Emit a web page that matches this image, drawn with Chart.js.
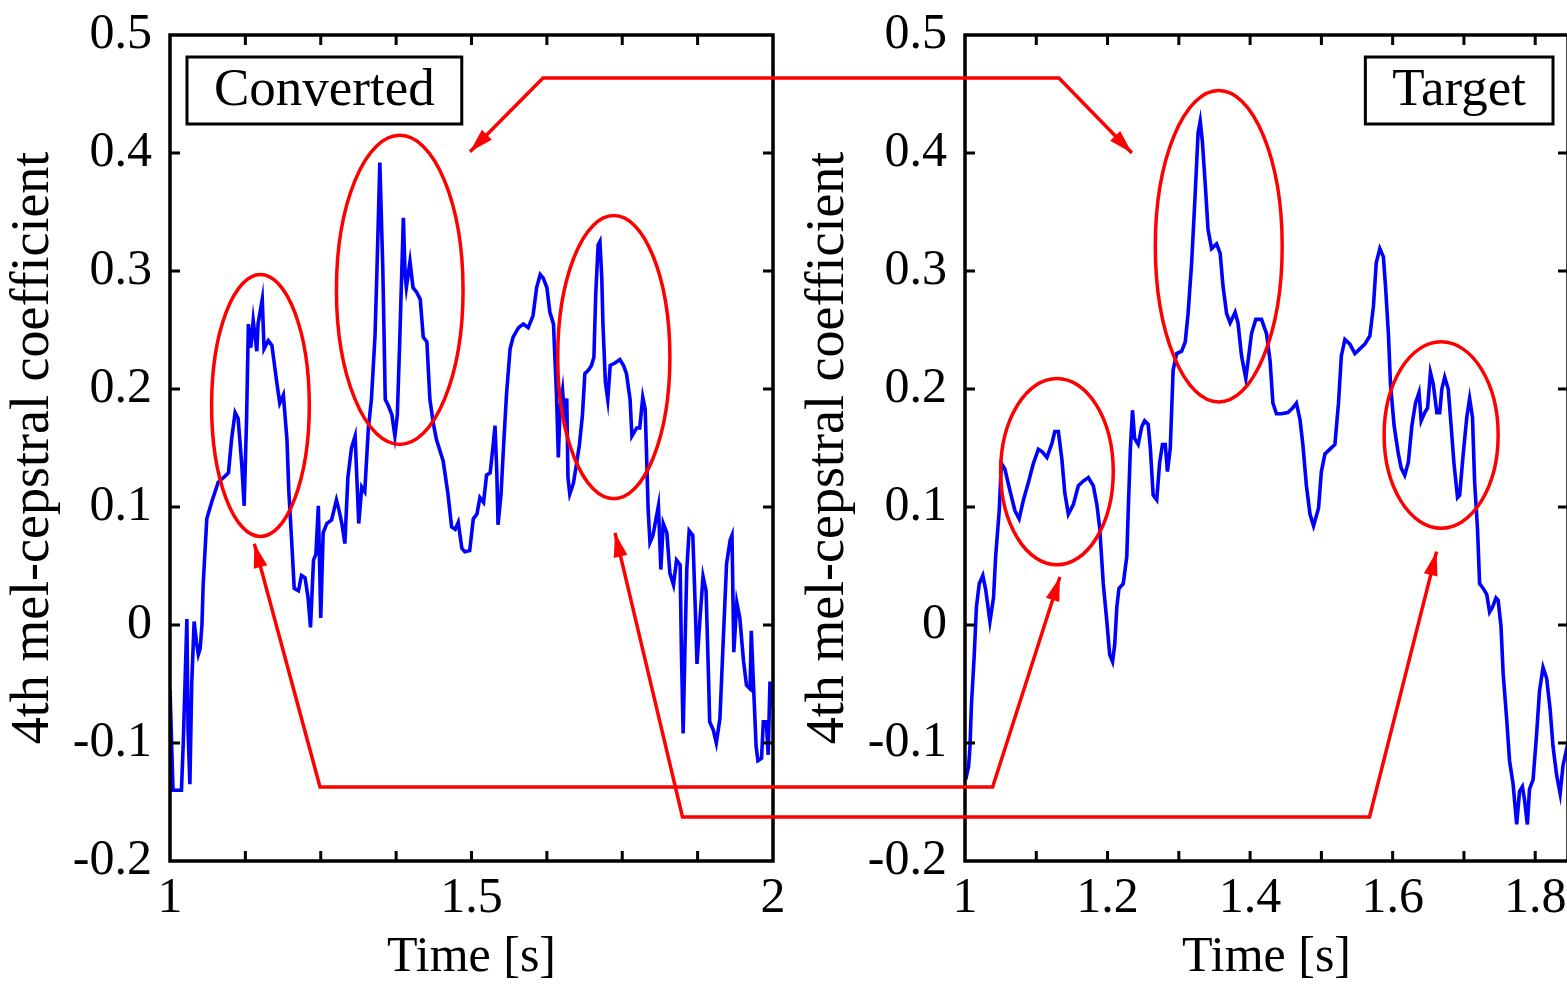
<!DOCTYPE html>
<html>
<head>
<meta charset="utf-8">
<title>4th mel-cepstral coefficient: Converted vs Target</title>
<script src="https://cdn.jsdelivr.net/npm/chart.js@4.4.1/dist/chart.umd.min.js"></script>
<style>
  html, body { margin: 0; padding: 0; background: #fff; overflow: hidden; }
  #page { position: relative; width: 1567px; height: 984px; overflow: hidden; }
  canvas { position: absolute; top: 0; }
  #leftChart { left: 0; }
  #rightChart { left: 795px; }
  #overlay { left: 0; pointer-events: none; }
</style>
</head>
<body>
<div id="page">
  <canvas id="leftChart" width="790" height="984"></canvas>
  <canvas id="rightChart" width="790" height="984"></canvas>
  <canvas id="overlay" width="1567" height="984"></canvas>
</div>
<script>
// =======================
// DATA
// =======================

// Converted (left panel), time [s]
const leftTime = [
  1.000, 1.005, 1.019, 1.022, 1.028, 1.030, 1.033, 1.036, 1.040, 1.044, 1.047, 1.050, 1.053, 1.055, 1.061, 1.069,
  1.080, 1.091, 1.097, 1.102, 1.108, 1.113, 1.119, 1.123, 1.127, 1.130, 1.134, 1.138, 1.144, 1.146, 1.153, 1.156,
  1.163, 1.169, 1.177, 1.182, 1.188, 1.194, 1.197, 1.202, 1.206, 1.213, 1.218, 1.224, 1.229, 1.233, 1.238, 1.242,
  1.246, 1.250, 1.254, 1.260, 1.268, 1.276, 1.280, 1.285, 1.290, 1.295, 1.301, 1.307, 1.313, 1.318, 1.323, 1.329,
  1.334, 1.340, 1.343, 1.348, 1.353, 1.357, 1.362, 1.368, 1.373, 1.377, 1.381, 1.387, 1.390, 1.392, 1.398, 1.403,
  1.409, 1.415, 1.420, 1.426, 1.431, 1.437, 1.442, 1.453, 1.461, 1.467, 1.473, 1.478, 1.484, 1.489, 1.497, 1.503,
  1.509, 1.514, 1.520, 1.525, 1.531, 1.536, 1.539, 1.542, 1.544, 1.549, 1.553, 1.558, 1.564, 1.569, 1.578, 1.586,
  1.594, 1.602, 1.608, 1.614, 1.619, 1.625, 1.630, 1.636, 1.638, 1.641, 1.644, 1.647, 1.651, 1.655, 1.658, 1.660,
  1.663, 1.669, 1.674, 1.679, 1.684, 1.688, 1.694, 1.699, 1.703, 1.706, 1.710, 1.713, 1.716, 1.718, 1.722, 1.726,
  1.730, 1.738, 1.746, 1.752, 1.757, 1.763, 1.766, 1.774, 1.779, 1.784, 1.788, 1.790, 1.793, 1.796, 1.801, 1.806,
  1.810, 1.814, 1.818, 1.824, 1.829, 1.835, 1.840, 1.846, 1.848, 1.851, 1.854, 1.857, 1.861, 1.867, 1.871, 1.874,
  1.879, 1.884, 1.889, 1.893, 1.895, 1.901, 1.906, 1.912, 1.917, 1.923, 1.929, 1.932, 1.935, 1.940, 1.945, 1.951,
  1.956, 1.962, 1.964, 1.967, 1.972, 1.975, 1.981, 1.984, 1.989, 1.992, 1.995, 1.997, 2.000
];
const leftValue = [
  -0.055, -0.140, -0.140, -0.100, 0.005, -0.090, -0.135, -0.050, 0.003, -0.015, -0.025, -0.020, 0.000, 0.034, 0.090, 0.104,
  0.121, 0.126, 0.129, 0.157, 0.180, 0.175, 0.136, 0.101, 0.175, 0.255, 0.235, 0.258, 0.232, 0.255, 0.276, 0.234,
  0.241, 0.237, 0.206, 0.188, 0.195, 0.157, 0.114, 0.069, 0.031, 0.029, 0.042, 0.040, 0.023, -0.002, 0.055, 0.060,
  0.101, 0.006, 0.078, 0.086, 0.089, 0.106, 0.098, 0.086, 0.069, 0.125, 0.150, 0.160, 0.086, 0.117, 0.113, 0.167,
  0.191, 0.245, 0.297, 0.392, 0.300, 0.191, 0.186, 0.178, 0.160, 0.178, 0.241, 0.345, 0.296, 0.286, 0.308, 0.286,
  0.282, 0.276, 0.244, 0.240, 0.191, 0.170, 0.157, 0.139, 0.111, 0.083, 0.081, 0.087, 0.065, 0.062, 0.063, 0.090,
  0.094, 0.108, 0.104, 0.127, 0.129, 0.153, 0.169, 0.129, 0.085, 0.111, 0.150, 0.195, 0.234, 0.244, 0.252, 0.255,
  0.252, 0.262, 0.286, 0.297, 0.294, 0.286, 0.265, 0.255, 0.230, 0.195, 0.142, 0.185, 0.199, 0.171, 0.192, 0.125,
  0.111, 0.120, 0.136, 0.153, 0.178, 0.213, 0.216, 0.220, 0.227, 0.280, 0.322, 0.325, 0.295, 0.255, 0.206, 0.191,
  0.220, 0.222, 0.225, 0.220, 0.213, 0.191, 0.160, 0.167, 0.167, 0.193, 0.183, 0.150, 0.097, 0.070, 0.076, 0.090,
  0.101, 0.047, 0.086, 0.078, 0.044, 0.034, 0.055, 0.051, -0.019, -0.092, -0.019, 0.047, 0.080, 0.076, 0.016, -0.033,
  0.006, 0.041, 0.029, -0.043, -0.082, -0.089, -0.100, -0.079, -0.019, 0.052, 0.072, 0.076, -0.023, 0.019, 0.006, -0.030,
  -0.051, -0.054, -0.005, -0.043, -0.103, -0.115, -0.113, -0.082, -0.082, -0.110, -0.048, -0.070, -0.050
];

// Target (right panel), time [s]
const rightTime = [
  1.001, 1.005, 1.007, 1.009, 1.013, 1.016, 1.020, 1.025, 1.029, 1.035, 1.040, 1.043, 1.048, 1.051, 1.056, 1.063,
  1.070, 1.076, 1.082, 1.089, 1.096, 1.103, 1.108, 1.115, 1.122, 1.126, 1.131, 1.136, 1.140, 1.145, 1.152, 1.159,
  1.166, 1.173, 1.180, 1.185, 1.189, 1.194, 1.199, 1.203, 1.207, 1.210, 1.213, 1.216, 1.222, 1.227, 1.229, 1.232,
  1.235, 1.238, 1.243, 1.248, 1.252, 1.257, 1.260, 1.264, 1.269, 1.273, 1.277, 1.281, 1.284, 1.288, 1.292, 1.297,
  1.304, 1.309, 1.313, 1.318, 1.323, 1.327, 1.330, 1.333, 1.337, 1.341, 1.346, 1.353, 1.358, 1.362, 1.367, 1.372,
  1.379, 1.383, 1.388, 1.394, 1.397, 1.402, 1.408, 1.416, 1.423, 1.428, 1.432, 1.437, 1.444, 1.453, 1.460, 1.465,
  1.470, 1.474, 1.479, 1.484, 1.489, 1.496, 1.500, 1.505, 1.512, 1.519, 1.524, 1.528, 1.533, 1.540, 1.547, 1.554,
  1.561, 1.568, 1.573, 1.577, 1.582, 1.587, 1.590, 1.594, 1.597, 1.602, 1.608, 1.612, 1.617, 1.622, 1.627, 1.632,
  1.637, 1.640, 1.645, 1.649, 1.653, 1.657, 1.662, 1.666, 1.669, 1.673, 1.678, 1.682, 1.686, 1.691, 1.694, 1.699,
  1.704, 1.708, 1.712, 1.715, 1.719, 1.722, 1.727, 1.732, 1.736, 1.740, 1.745, 1.748, 1.752, 1.755, 1.760, 1.764,
  1.769, 1.774, 1.778, 1.782, 1.785, 1.789, 1.792, 1.797, 1.802, 1.806, 1.811, 1.816, 1.821, 1.825, 1.830, 1.835,
  1.839, 1.843, 1.846
];
const rightValue = [
  -0.131, -0.120, -0.103, -0.068, -0.025, 0.015, 0.035, 0.042, 0.030, 0.003, 0.023, 0.058, 0.097, 0.137, 0.132, 0.114,
  0.097, 0.090, 0.106, 0.121, 0.137, 0.149, 0.147, 0.142, 0.154, 0.164, 0.164, 0.140, 0.112, 0.094, 0.102, 0.118,
  0.122, 0.125, 0.118, 0.102, 0.082, 0.035, 0.003, -0.025, -0.031, -0.017, 0.015, 0.031, 0.035, 0.058, 0.097, 0.149,
  0.182, 0.158, 0.153, 0.168, 0.173, 0.170, 0.150, 0.110, 0.106, 0.137, 0.153, 0.153, 0.130, 0.150, 0.216, 0.230,
  0.232, 0.240, 0.264, 0.307, 0.366, 0.417, 0.427, 0.410, 0.374, 0.335, 0.319, 0.323, 0.315, 0.287, 0.264, 0.256,
  0.265, 0.256, 0.228, 0.209, 0.223, 0.247, 0.259, 0.259, 0.247, 0.224, 0.188, 0.179, 0.179, 0.180, 0.184, 0.188,
  0.174, 0.153, 0.118, 0.094, 0.084, 0.099, 0.130, 0.145, 0.149, 0.153, 0.188, 0.228, 0.242, 0.238, 0.230, 0.234,
  0.238, 0.245, 0.270, 0.307, 0.319, 0.312, 0.287, 0.247, 0.204, 0.169, 0.145, 0.133, 0.127, 0.138, 0.169, 0.188,
  0.197, 0.173, 0.180, 0.184, 0.214, 0.204, 0.180, 0.180, 0.200, 0.210, 0.200, 0.169, 0.137, 0.108, 0.110, 0.145,
  0.176, 0.192, 0.176, 0.121, 0.082, 0.035, 0.031, 0.026, 0.011, 0.015, 0.023, 0.021, -0.001, -0.041, -0.080, -0.115,
  -0.135, -0.169, -0.141, -0.137, -0.148, -0.169, -0.139, -0.131, -0.092, -0.056, -0.036, -0.045, -0.072, -0.103, -0.127, -0.143,
  -0.119, -0.108, -0.100
];

// tick labels
const yTickLabels = ['-0.2', '-0.1', '0', '0.1', '0.2', '0.3', '0.4', '0.5'];
const leftXTickLabels = ['1', '', '', '', '1.5', '', '', '', '2'];
const rightXTickLabels = ['1', '', '1.2', '', '1.4', '', '1.6', '', '1.8'];

// red ellipses, in data units of their panel
const ellipsePanel = ['left', 'left', 'left', 'right', 'right', 'right'];
const ellipseTime = [1.150, 1.381, 1.736, 1.129, 1.356, 1.668];
const ellipseValue = [0.186, 0.284, 0.227, 0.130, 0.321, 0.161];
const ellipseHalfTime = [0.081, 0.105, 0.093, 0.079, 0.089, 0.080];
const ellipseHalfValue = [0.111, 0.131, 0.120, 0.079, 0.132, 0.079];

// red connectors with arrowheads at both ends: [panel, time, value]
const topConnector = [['left', 1.4975, 0.401], ['left', 1.6186, 0.4636], ['right', 1.1318, 0.4636], ['right', 1.2342, 0.400]];
const lowConnector = [['left', 1.1398, 0.0688], ['left', 1.2488, -0.1373], ['right', 1.0388, -0.1373], ['right', 1.1332, 0.0407]];
const lowestConnector = [['left', 1.738, 0.078], ['left', 1.8499, -0.1627], ['right', 1.5675, -0.1627], ['right', 1.6616, 0.0622]];

const FONT = '"Liberation Serif", "Times New Roman", serif';
Chart.defaults.font.family = FONT;
Chart.defaults.color = '#000';


// =======================
// FRAME, INNER TICKS, LABEL BOX
// =======================
function framePlugin(boxText, boxSide) {
  return {
    id: 'frame',
    afterDraw(chart) {
      const ctx = chart.ctx;
      const a = chart.chartArea;
      const sx = chart.scales.x;
      const sy = chart.scales.y;

      ctx.save();
      ctx.strokeStyle = '#000';
      ctx.lineWidth = 3;
      ctx.beginPath();
      sx.ticks.forEach(tk => {
        const px = sx.getPixelForValue(tk.value);
        if (px <= a.left + 1 || px >= a.right - 1) return;
        ctx.moveTo(px, a.bottom); ctx.lineTo(px, a.bottom - 10);
        ctx.moveTo(px, a.top); ctx.lineTo(px, a.top + 10);
      });
      sy.ticks.forEach(tk => {
        const py = sy.getPixelForValue(tk.value);
        if (py <= a.top + 1 || py >= a.bottom - 1) return;
        ctx.moveTo(a.left, py); ctx.lineTo(a.left + 10, py);
        ctx.moveTo(a.right, py); ctx.lineTo(a.right - 10, py);
      });
      ctx.stroke();

      ctx.lineWidth = 3.5;
      ctx.strokeRect(a.left, a.top, a.right - a.left, a.bottom - a.top);

      // label box
      ctx.font = '53px ' + FONT;
      const w = ctx.measureText(boxText).width + 54;
      const h = 67;
      const x0 = boxSide === 'left' ? a.left + 17 : a.right - 15 - w;
      const y0 = a.top + 22;
      ctx.fillStyle = '#fff';
      ctx.fillRect(x0, y0, w, h);
      ctx.lineWidth = 3;
      ctx.strokeRect(x0, y0, w, h);
      ctx.fillStyle = '#000';
      ctx.textAlign = 'center';
      ctx.textBaseline = 'middle';
      ctx.fillText(boxText, x0 + w / 2, y0 + h / 2 + 1);
      ctx.restore();
    }
  };
}


// =======================
// ONE PANEL
// =======================
function makeChart(canvasId, times, values, xMax, xStep, xLabels, boxText, boxSide) {
  const points = times.map((t, i) => ({ x: t, y: values[i] }));

  return new Chart(document.getElementById(canvasId), {
    type: 'line',
    data: {
      datasets: [{
        data: points,
        borderColor: '#0000ff',
        borderWidth: 3.6,
        pointRadius: 0,
        tension: 0,
        fill: false
      }]
    },
    options: {
      responsive: false,
      animation: false,
      events: [],
      layout: { padding: { left: 0, right: 17, top: 35, bottom: 0 } },
      plugins: {
        legend: { display: false },
        tooltip: { enabled: false }
      },
      scales: {
        x: {
          type: 'linear',
          min: 1,
          max: xMax,
          bounds: 'data',
          grid: { display: false, drawTicks: false },
          border: { display: false },
          ticks: {
            stepSize: xStep,
            includeBounds: false,
            autoSkip: false,
            maxRotation: 0,
            padding: 8,
            font: { size: 50 },
            callback: (v, i) => xLabels[i]
          },
          title: {
            display: true,
            text: 'Time [s]',
            font: { size: 50, lineHeight: 1 },
            padding: { top: 0, bottom: 1 }
          },
          afterFit: s => {
            s.height = 123;
            s.paddingLeft = 0;
            s.paddingRight = 0;
          }
        },
        y: {
          type: 'linear',
          min: -0.2,
          max: 0.5,
          bounds: 'data',
          grid: { display: false, drawTicks: false },
          border: { display: false },
          ticks: {
            stepSize: 0.1,
            padding: 18,
            font: { size: 50 },
            callback: (v, i) => yTickLabels[i]
          },
          title: {
            display: true,
            text: '4th mel-cepstral coefficient',
            font: { size: 54 },
            padding: { top: 1, bottom: 0 }
          },
          afterFit: s => {
            s.width = 170;
            s.paddingTop = 0;
            s.paddingBottom = 0;
          }
        }
      }
    },
    plugins: [framePlugin(boxText, boxSide)]
  });
}

const leftChart = makeChart('leftChart', leftTime, leftValue, 2, 0.125, leftXTickLabels, 'Converted', 'left');
const rightChart = makeChart('rightChart', rightTime, rightValue, 1.846, 0.1, rightXTickLabels, 'Target', 'right');


// =======================
// RED ANNOTATIONS (across both panels)
// =======================
function toPage(panel, t, v) {
  const chart = panel === 'left' ? leftChart : rightChart;
  const offset = panel === 'left' ? 0 : 795;
  return [offset + chart.scales.x.getPixelForValue(t), chart.scales.y.getPixelForValue(v)];
}

function arrowHead(ctx, from, tip) {
  const ang = Math.atan2(tip[1] - from[1], tip[0] - from[0]);
  const len = 24, half = 7;
  ctx.beginPath();
  ctx.moveTo(tip[0], tip[1]);
  ctx.lineTo(tip[0] - len * Math.cos(ang) + half * Math.sin(ang), tip[1] - len * Math.sin(ang) - half * Math.cos(ang));
  ctx.lineTo(tip[0] - len * Math.cos(ang) - half * Math.sin(ang), tip[1] - len * Math.sin(ang) + half * Math.cos(ang));
  ctx.closePath();
  ctx.fill();
}

function drawAnnotations() {
  const ctx = document.getElementById('overlay').getContext('2d');
  ctx.strokeStyle = '#ff0000';
  ctx.fillStyle = '#ff0000';
  ctx.lineWidth = 3.5;
  ctx.lineJoin = 'miter';

  ellipseTime.forEach((t, i) => {
    const c = toPage(ellipsePanel[i], t, ellipseValue[i]);
    const e = toPage(ellipsePanel[i], t + ellipseHalfTime[i], ellipseValue[i] + ellipseHalfValue[i]);
    ctx.beginPath();
    ctx.ellipse(c[0], c[1], Math.abs(e[0] - c[0]), Math.abs(e[1] - c[1]), 0, 0, Math.PI * 2);
    ctx.stroke();
  });

  [topConnector, lowConnector, lowestConnector].forEach(conn => {
    const pts = conn.map(p => toPage(p[0], p[1], p[2]));
    ctx.beginPath();
    pts.forEach((p, i) => i === 0 ? ctx.moveTo(p[0], p[1]) : ctx.lineTo(p[0], p[1]));
    ctx.stroke();
    arrowHead(ctx, pts[1], pts[0]);
    arrowHead(ctx, pts[pts.length - 2], pts[pts.length - 1]);
  });
}

drawAnnotations();
</script>
</body>
</html>
